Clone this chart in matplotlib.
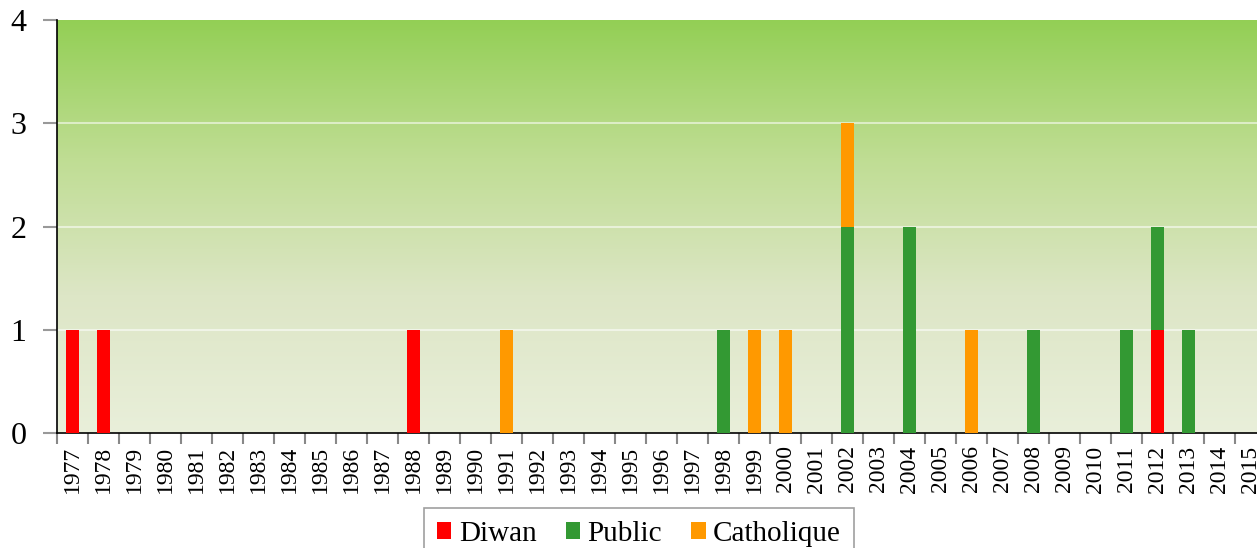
import numpy as np
import matplotlib
matplotlib.use("Agg")
import matplotlib.pyplot as plt
from matplotlib.colors import LinearSegmentedColormap
from matplotlib.patches import Patch

years = [str(y) for y in range(1977, 2016)]
diwan = {"1977": 1, "1978": 1, "1988": 1, "2012": 1}
public = {"1998": 1, "2002": 2, "2004": 2, "2008": 1, "2011": 1, "2012": 1, "2013": 1}
catholique = {"1991": 1, "1999": 1, "2000": 1, "2002": 1, "2006": 1}

series_names = ["Diwan", "Public", "Catholique"]
series_colors = ["#ff0000", "#339933", "#ff9900"]
yticks = [0, 1, 2, 3, 4]

plt.rcParams['font.family'] = ['Liberation Serif', 'DejaVu Serif']

W, H = 1257, 548
fig = plt.figure(figsize=(W / 100, H / 100), dpi=100)
ax_left, ax_right, ax_top, ax_bottom = 57, 57 + 39 * 31, 20, 433
ax = fig.add_axes([ax_left / W, 1 - ax_bottom / H, (ax_right - ax_left) / W, (ax_bottom - ax_top) / H])

# gradient background
grad = np.linspace(0, 1, 256).reshape(-1, 1)
cmap = LinearSegmentedColormap.from_list("bg", ["#e9efda", "#dde6c6", "#bfdd93", "#93cf55"])
ax.imshow(grad, aspect="auto", cmap=cmap, origin="lower",
          extent=[-0.5, len(years) - 0.5, 0, 4], zorder=0)

x = np.arange(len(years))
d = np.array([diwan.get(y, 0) for y in years])
p = np.array([public.get(y, 0) for y in years])
c = np.array([catholique.get(y, 0) for y in years])
bw = 0.4
ax.bar(x, d, bw, color=series_colors[0], zorder=3)
ax.bar(x, p, bw, bottom=d, color=series_colors[1], zorder=3)
ax.bar(x, c, bw, bottom=d + p, color=series_colors[2], zorder=3)

ax.set_xlim(-0.5, len(years) - 0.5)
ax.set_ylim(0, 4)
for yv in yticks[1:4]:
    ax.axhline(yv, color="white", alpha=0.55, lw=1.5, zorder=1)

ax.set_yticks(yticks)
ax.set_yticklabels([str(v) for v in yticks], fontsize=23)
ax.tick_params(axis="y", length=10, color="#999999", width=1.5, pad=12)

ax.set_xticks(x)
ax.set_xticklabels(years, rotation=90, fontsize=17)
ax.set_xticks(np.arange(-0.5, len(years) + 0.5, 1), minor=True)
ax.tick_params(axis="x", which="major", length=0, pad=9)
ax.tick_params(axis="x", which="minor", length=8, color="#888888", width=1.5)

for s in ["top", "right"]:
    ax.spines[s].set_visible(False)
ax.spines["left"].set_color("black")
ax.spines["bottom"].set_color("black")
ax.spines["left"].set_linewidth(1.2)
ax.spines["bottom"].set_linewidth(1.2)

handles = [Patch(facecolor=col, edgecolor="none") for col in series_colors]
leg = fig.legend(handles, series_names, loc="upper center", ncol=3,
                 bbox_to_anchor=(639 / W, 1 - 508 / H), fontsize=21,
                 frameon=True, fancybox=False, edgecolor="#888888",
                 handlelength=0.5, handleheight=0.5, handletextpad=0.25,
                 columnspacing=1.0, borderpad=0.45, borderaxespad=0)
leg.get_frame().set_linewidth(1.2)

fig.savefig("out.png", dpi=100)
